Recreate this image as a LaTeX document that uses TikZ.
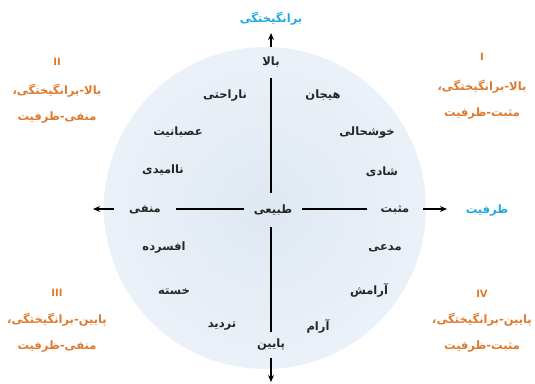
\documentclass[tikz,border=0pt]{standalone}
\usepackage{fontspec}
\newfontfamily\fa[Script=Arabic]{DejaVu Sans}
\newfontfamily\lat{DejaVu Sans}
\TeXXeTstate=1
\usetikzlibrary{arrows.meta}
\definecolor{discin}{HTML}{DFE8F2}
\definecolor{discout}{HTML}{EBF1F8}
\definecolor{axiscyan}{HTML}{1EA9E1}
\definecolor{quadorange}{HTML}{DE7A2E}
\tikzset{
  word/.style={font=\fa\bfseries\fontsize{11.5}{13}\selectfont, text=black!85, inner sep=2pt},
  axword/.style={word, inner sep=0pt},
  title/.style={font=\fa\bfseries\fontsize{11.5}{13}\selectfont, text=axiscyan, inner sep=1pt},
  quad/.style={font=\fa\bfseries\fontsize{11.5}{13}\selectfont, text=quadorange, inner sep=1pt},
  quadnum/.style={font=\lat\bfseries\fontsize{10}{11}\selectfont, text=quadorange, inner sep=1pt},
  axis/.style={line width=1.3pt, black},
  axarrow/.style={axis, -{Stealth[length=7pt,width=6pt]}}
}
\begin{document}
\begin{tikzpicture}[x=1pt,y=-1pt]
\useasboundingbox (0,0) rectangle (535,383);
\shade[inner color=discin, outer color=discout] (265,208) circle (161);

% axis labels
\node[title] (arousal) at (271,19) {\beginR برانگیختگی\endR};
\node[title] (valence) at (487,211) {\beginR ظرفیت\endR};

\node[axword, minimum height=31pt] (bala) at (271,62.5) {\beginR بالا\endR};
\node[axword, minimum height=26pt] (payin) at (271,345) {\beginR پایین\endR};
\node[axword, minimum width=58pt, minimum height=34pt] (tabii) at (273,210) {\beginR طبیعی\endR};
\node[axword, minimum width=62pt, minimum height=20pt] (manfi) at (145,210) {\beginR منفی\endR};
\node[axword, minimum width=56pt, minimum height=20pt] (mosbat) at (395,210) {\beginR مثبت\endR};

\coordinate (toptip) at (271,33);
\coordinate (bottip) at (271,382);
\coordinate (lefttip) at (93,209);
\coordinate (righttip) at (447,209);

\draw[axarrow] (bala.north) -- (toptip);
\draw[axis] (bala.south) -- (bala.south |- tabii.north);
\draw[axis] (bala.south |- tabii.south) -- (payin.north);
\draw[axarrow] (payin.south) -- (bottip);
\draw[axarrow] (manfi.west |- lefttip) -- (lefttip);
\draw[axis] (manfi.east |- lefttip) -- (tabii.west |- lefttip);
\draw[axis] (tabii.east |- lefttip) -- (mosbat.west |- lefttip);
\draw[axarrow] (mosbat.east |- righttip) -- (righttip);

% emotion words
\node[word] (narahati) at (225,96) {\beginR ناراحتی\endR};
\node[word] (hayajan) at (323,95) {\beginR هیجان\endR};
\node[word] (asabaniyat) at (178,132) {\beginR عصبانیت\endR};
\node[word] (khoshhali) at (367,133) {\beginR خوشحالی\endR};
\node[word] (naomidi) at (163,170) {\beginR ناامیدی\endR};
\node[word] (shadi) at (382,172) {\beginR شادی\endR};
\node[word] (afsorde) at (164,248) {\beginR افسرده\endR};
\node[word] (moddaei) at (385,248) {\beginR مدعی\endR};
\node[word] (khaste) at (174,292) {\beginR خسته\endR};
\node[word] (aramesh) at (369,290) {\beginR آرامش\endR};
\node[word] (tardid) at (222,326) {\beginR تردید\endR};
\node[word] (aram) at (318,326) {\beginR آرام\endR};

% quadrant labels
\node[quadnum] (q1n) at (482,57) {I};
\node[quad] (q1a) at (482,87) {\beginR بالا-برانگیختگی،\endR};
\node[quad] (q1b) at (482,114) {\beginR مثبت-ظرفیت\endR};

\node[quadnum] (q2n) at (57,62) {II};
\node[quad] (q2a) at (57,91) {\beginR بالا-برانگیختگی،\endR};
\node[quad] (q2b) at (57,118) {\beginR منفی-ظرفیت\endR};

\node[quadnum] (q3n) at (57,293) {III};
\node[quad] (q3a) at (57,320) {\beginR پایین-برانگیختگی،\endR};
\node[quad] (q3b) at (57,347) {\beginR منفی-ظرفیت\endR};

\node[quadnum] (q4n) at (482,294) {IV};
\node[quad] (q4a) at (482,320) {\beginR پایین-برانگیختگی،\endR};
\node[quad] (q4b) at (482,347) {\beginR مثبت-ظرفیت\endR};
\end{tikzpicture}
\end{document}
